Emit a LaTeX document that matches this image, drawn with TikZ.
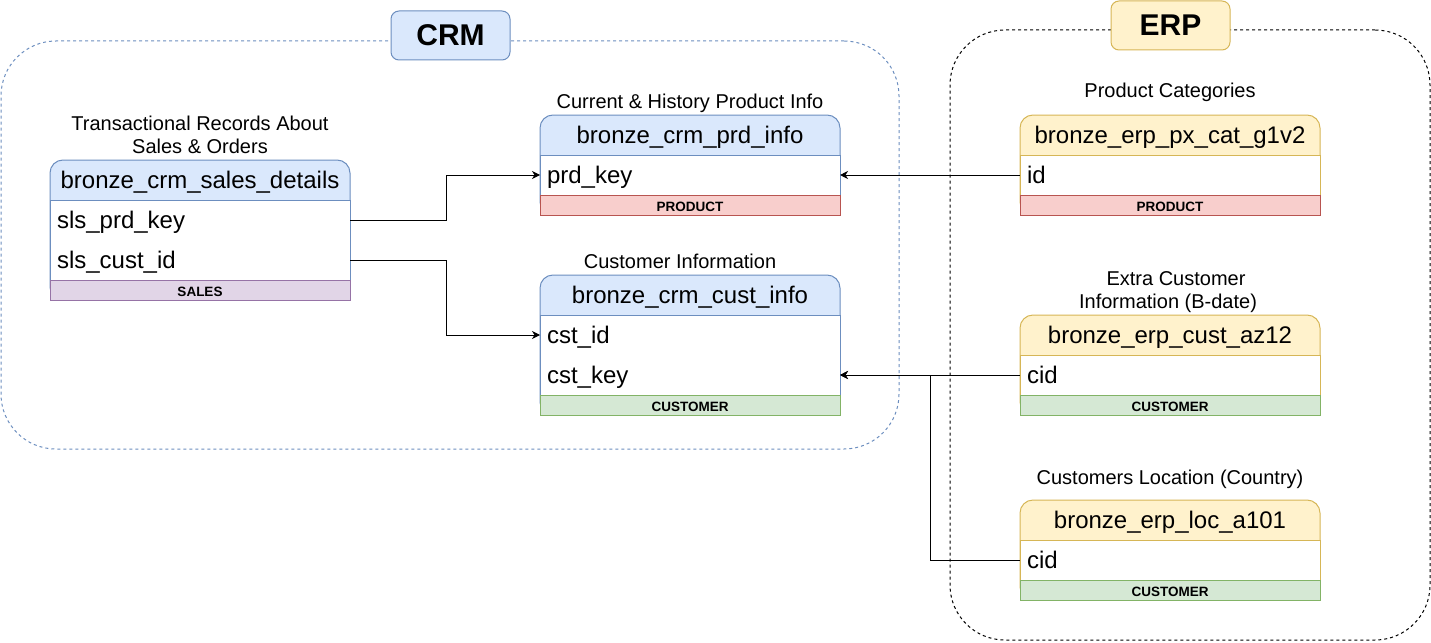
\documentclass[tikz,border=0pt]{standalone}
\usepackage{fontspec}
\setmainfont{Liberation Sans}
\usetikzlibrary{arrows.meta}
\definecolor{bluef}{HTML}{DAE8FC}
\definecolor{blues}{HTML}{6C8EBF}
\definecolor{yelf}{HTML}{FFF2CC}
\definecolor{yels}{HTML}{D6B656}
\definecolor{redf}{HTML}{F8CECC}
\definecolor{reds}{HTML}{B85450}
\definecolor{grnf}{HTML}{D5E8D4}
\definecolor{grns}{HTML}{82B366}
\definecolor{purf}{HTML}{E1D5E7}
\definecolor{purs}{HTML}{9673A6}
\tikzset{
  every node/.style={inner sep=0pt, outer sep=0pt},
  crmcont/.style={anchor=north west, draw=blues, line width=1pt, dash pattern=on 3pt off 3pt, rounded corners=55pt},
  erpcont/.style={anchor=north west, draw=black, line width=1pt, dash pattern=on 3pt off 3pt, rounded corners=55pt},
  grplabel/.style={line width=1pt, rounded corners=8pt, minimum width=119pt, minimum height=49pt, font=\fontsize{30}{30}\selectfont\bfseries},
  tframe/.style={anchor=north west, minimum width=300pt, rounded corners=13pt, line width=1pt},
  crmhdr/.style={fill=bluef, draw=blues},
  erphdr/.style={fill=yelf, draw=yels},
  tbody/.style={anchor=north west, minimum width=300pt, fill=white, line width=1pt},
  tfoot/.style={anchor=north west, minimum width=300pt, minimum height=20pt, text height=13.4pt, text depth=0pt, line width=1pt, font=\fontsize{13.5}{13.5}\selectfont\bfseries},
  salesft/.style={fill=purf, draw=purs},
  prodft/.style={fill=redf, draw=reds},
  custft/.style={fill=grnf, draw=grns},
  thead/.style={anchor=north west, minimum width=300pt, minimum height=40pt, text height=18pt, text depth=2pt, font=\fontsize{24}{24}\selectfont},
  trow/.style={anchor=north west, minimum height=40pt, text width=286pt, align=left, inner xsep=7pt, text height=18pt, text depth=2pt, font=\fontsize{24}{24}\selectfont},
  ttitle/.style={anchor=base, font=\fontsize{20}{20}\selectfont},
  link/.style={draw=black, line width=1pt, -{Stealth[length=8pt, width=8pt, inset=2.5pt]}},
}
\begin{document}
\begin{tikzpicture}[x=1pt, y=-1pt]
\useasboundingbox (0,0) rectangle (1431,642);

% containers
\node[crmcont, minimum width=898pt, minimum height=408pt] (crmbox) at (1,41) {};
\node[erpcont, minimum width=480pt, minimum height=610pt] (erpbox) at (950,30) {};
\node[grplabel, fill=bluef, draw=blues] (crm) at (450.5,35.5) {CRM};
\node[grplabel, fill=yelf, draw=yels] (erp) at (1170.5,25.5) {ERP};

% ---- bronze_crm_sales_details
\node[tframe, crmhdr, minimum height=140pt] (sd-frame) at (50,160) {};
\node[tbody, draw=blues, minimum height=80pt] (sd-body) at (50,200) {};
\node[tfoot, salesft] (sd-foot) at (50,280) {SALES};
\node[thead] (sd-head) at (50,160) {bronze\_crm\_sales\_details};
\node[trow] (sd1) at (50,200) {sls\_prd\_key};
\node[trow] (sd2) at (50,240) {sls\_cust\_id};
\node[ttitle] (sd-t1) at (200,130.5) {Transactional Records About};
\node[ttitle] (sd-t2) at (200,153.5) {Sales \& Orders};

% ---- bronze_crm_prd_info
\node[tframe, crmhdr, minimum height=100pt] (pi-frame) at (540,115) {};
\node[tbody, draw=blues, minimum height=40pt] (pi-body) at (540,155) {};
\node[tfoot, prodft] (pi-foot) at (540,195) {PRODUCT};
\node[thead] (pi-head) at (540,115) {bronze\_crm\_prd\_info};
\node[trow] (pi1) at (540,155) {prd\_key};
\node[ttitle] (pi-t) at (690,108) {Current \& History Product Info};

% ---- bronze_crm_cust_info
\node[tframe, crmhdr, minimum height=140pt] (ci-frame) at (540,275) {};
\node[tbody, draw=blues, minimum height=80pt] (ci-body) at (540,315) {};
\node[tfoot, custft] (ci-foot) at (540,395) {CUSTOMER};
\node[thead] (ci-head) at (540,275) {bronze\_crm\_cust\_info};
\node[trow] (ci1) at (540,315) {cst\_id};
\node[trow] (ci2) at (540,355) {cst\_key};
\node[ttitle] (ci-t) at (680,268) {Customer Information};

% ---- bronze_erp_px_cat_g1v2
\node[tframe, erphdr, minimum height=100pt] (px-frame) at (1020,115) {};
\node[tbody, draw=yels, minimum height=40pt] (px-body) at (1020,155) {};
\node[tfoot, prodft] (px-foot) at (1020,195) {PRODUCT};
\node[thead] (px-head) at (1020,115) {bronze\_erp\_px\_cat\_g1v2};
\node[trow] (px1) at (1020,155) {id};
\node[ttitle] (px-t) at (1170,97) {Product Categories};

% ---- bronze_erp_cust_az12
\node[tframe, erphdr, minimum height=100pt] (az-frame) at (1020,315) {};
\node[tbody, draw=yels, minimum height=40pt] (az-body) at (1020,355) {};
\node[tfoot, custft] (az-foot) at (1020,395) {CUSTOMER};
\node[thead] (az-head) at (1020,315) {bronze\_erp\_cust\_az12};
\node[trow] (az1) at (1020,355) {cid};
\node[ttitle] (az-t1) at (1176,285) {Extra Customer};
\node[ttitle] (az-t2) at (1168,308) {Information (B-date)};

% ---- bronze_erp_loc_a101
\node[tframe, erphdr, minimum height=100pt] (lc-frame) at (1020,500) {};
\node[tbody, draw=yels, minimum height=40pt] (lc-body) at (1020,540) {};
\node[tfoot, custft] (lc-foot) at (1020,580) {CUSTOMER};
\node[thead] (lc-head) at (1020,500) {bronze\_erp\_loc\_a101};
\node[trow] (lc1) at (1020,540) {cid};
\node[ttitle] (lc-t) at (1170,484) {Customers Location (Country)};

% ---- connectors
\draw[link] (sd1.east) -- ++(96,0) |- (pi1.west);
\draw[link] (sd2.east) -- ++(96,0) |- (ci1.west);
\draw[link] (px1.west) -- (pi1.east);
\draw[link] (az1.west) -- (ci2.east);
\draw[link] (lc1.west) -- ++(-90,0) |- (ci2.east);
\end{tikzpicture}
\end{document}
